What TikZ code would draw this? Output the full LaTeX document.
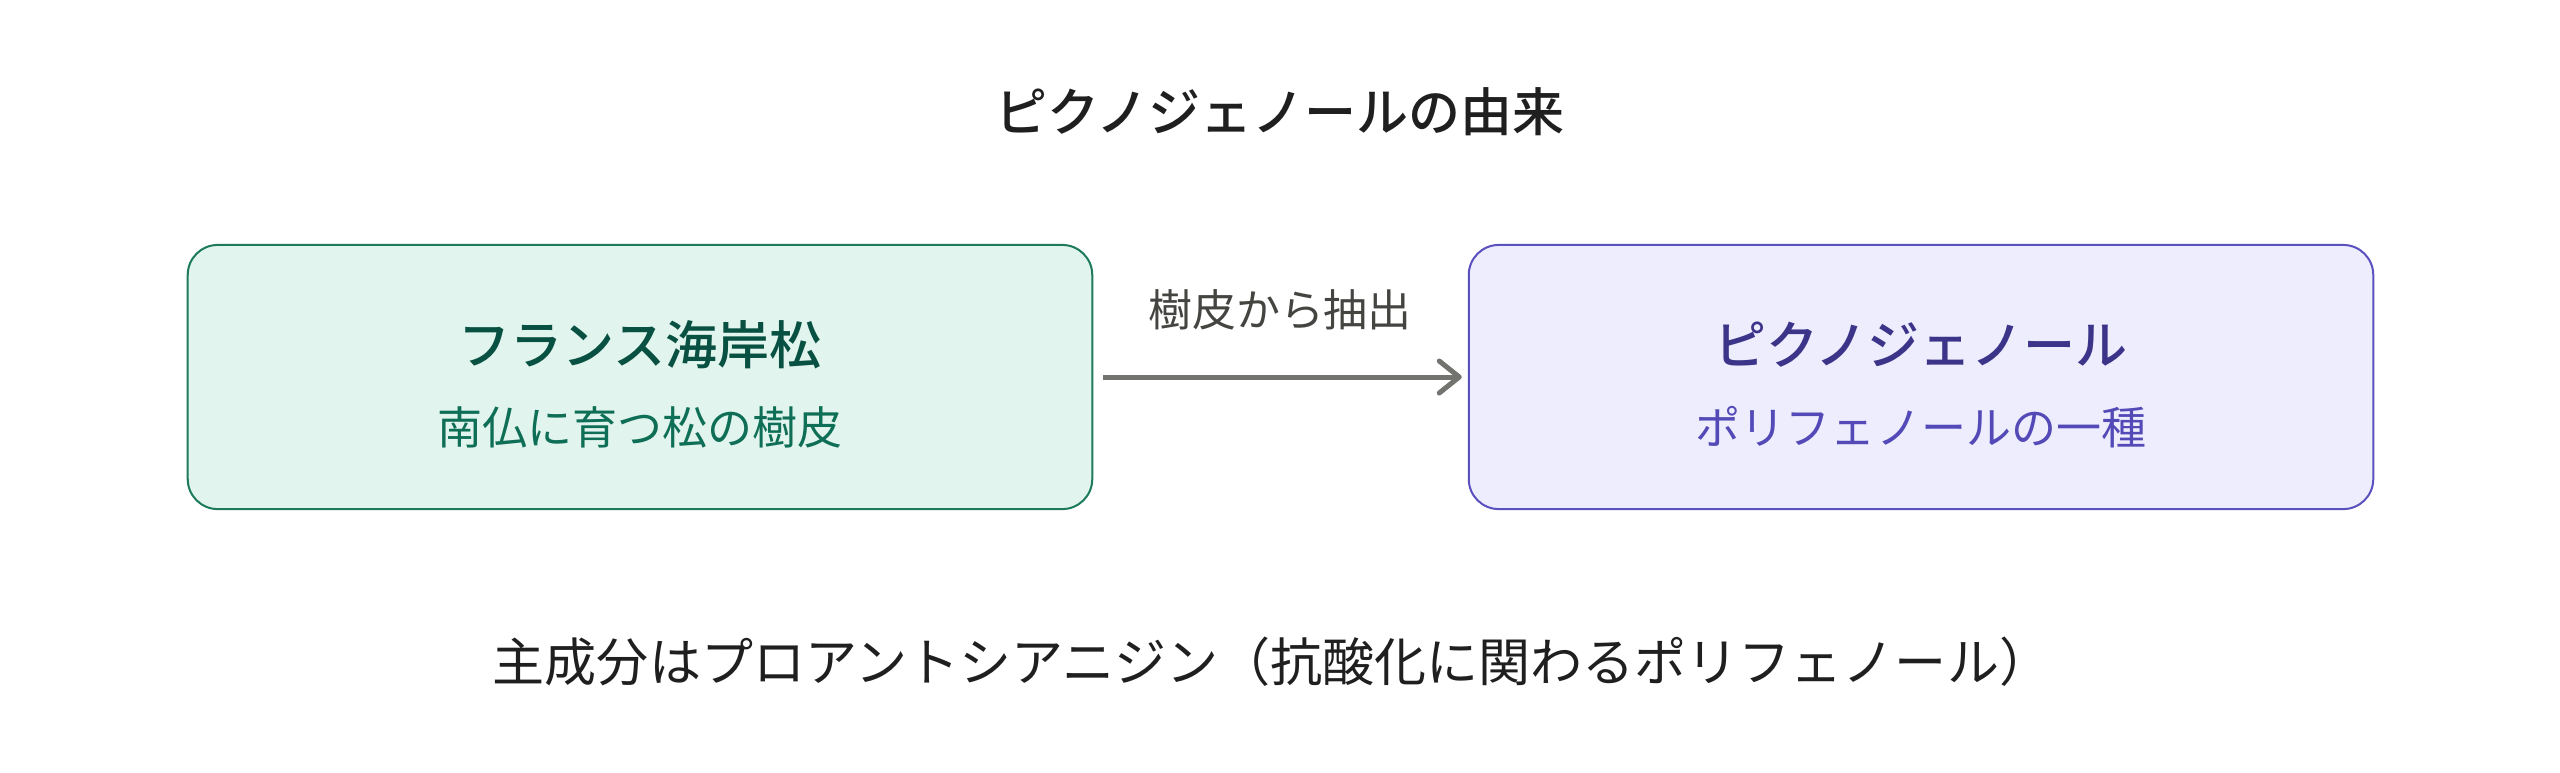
\documentclass[tikz,border=0pt]{standalone}
\usepackage{fontspec}
\setmainfont{Noto Sans CJK JP}
\newfontfamily\medfont{Noto Sans CJK JP Medium}
\usetikzlibrary{arrows.meta}
\definecolor{gfill}{HTML}{E1F5EE}
\definecolor{gdraw}{HTML}{1D7A5C}
\definecolor{gtitle}{HTML}{085041}
\definecolor{gsub}{HTML}{0F6E56}
\definecolor{pfill}{HTML}{EEEDFE}
\definecolor{pdraw}{HTML}{5A50BE}
\definecolor{ptitle}{HTML}{3C3489}
\definecolor{psub}{HTML}{534AB7}
\definecolor{arrowc}{HTML}{737370}
\definecolor{labc}{HTML}{444441}
\definecolor{txtc}{HTML}{1F1F1F}
\tikzset{
  boxg/.style={draw=gdraw, fill=gfill, line width=0.02cm, rounded corners=0.3cm, minimum width=9.04cm, minimum height=2.64cm},
  boxp/.style={draw=pdraw, fill=pfill, line width=0.02cm, rounded corners=0.3cm, minimum width=9.04cm, minimum height=2.64cm},
  ttl/.style={font=\fontsize{14.8pt}{18pt}\medfont, inner sep=0pt},
  subt/.style={font=\fontsize{12.8pt}{16pt}\selectfont, inner sep=0pt},
  lab/.style={font=\fontsize{12.5pt}{16pt}\selectfont, text=labc, inner sep=0pt},
  big/.style={font=\fontsize{14.8pt}{18pt}\selectfont, text=txtc, inner sep=0pt},
  conn/.style={draw=arrowc, line width=0.05cm, -{Straight Barb[round, length=0.2cm, width=0.32cm]}}
}
\begin{document}
\begin{tikzpicture}[x=0.01cm, y=-0.01cm]
\useasboundingbox (0,0) rectangle (2560,772);
\node[ttl, text=txtc] (title) at (1280,112) {ピクノジェノールの由来};
\node[boxg] (pine) at (640,377) {};
\node[ttl, text=gtitle] (pinet) at (640,345) {フランス海岸松};
\node[subt, text=gsub] (pines) at (640,427) {南仏に育つ松の樹皮};
\node[boxp] (pyc) at (1921,377) {};
\node[ttl, text=ptitle] (pyct) at (1921,345) {ピクノジェノール};
\node[subt, text=psub] (pycs) at (1921,427) {ポリフェノールの一種};
\draw[conn] (pine.east) ++(10,0) coordinate (a0) -- ([xshift=-0.06cm]pyc.west);
\node[lab] (elab) at (1280,310) {樹皮から抽出};
\node[big] (note) at (1272,662) {主成分はプロアントシアニジン（抗酸化に関わるポリフェノール）};
\end{tikzpicture}
\end{document}
